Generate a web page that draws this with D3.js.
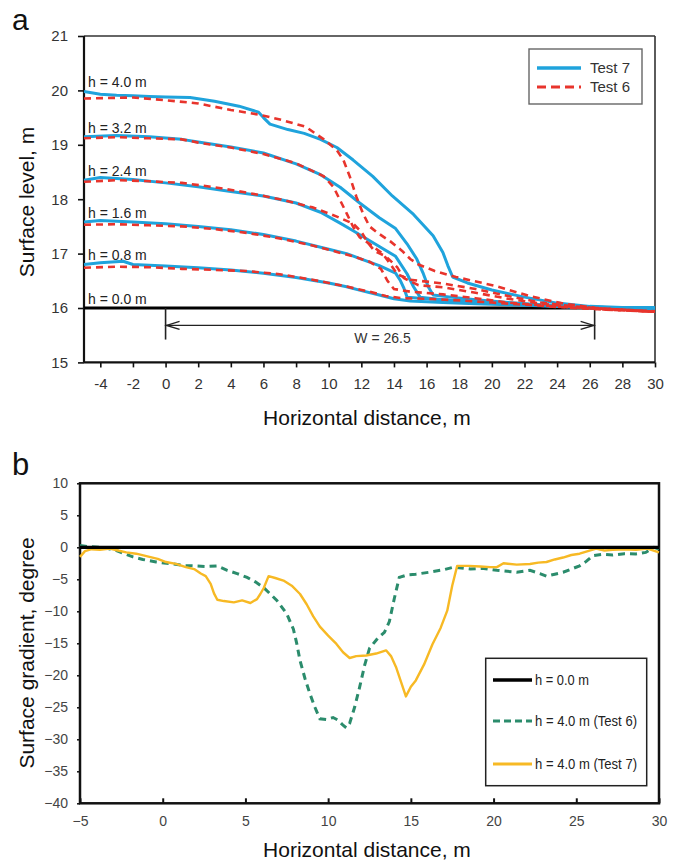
<!DOCTYPE html>
<html><head><meta charset="utf-8">
<script src="https://cdn.jsdelivr.net/npm/d3@7"></script>
<style>
body{margin:0;background:#fff;}
svg{display:block;font-family:"Liberation Sans",Arial,sans-serif;}
</style></head>
<body><svg id="c" width="677" height="861"></svg>
<script>
// ---------- DATA (panel a) ----------
const xTicksA = [-4,-2,0,2,4,6,8,10,12,14,16,18,20,22,24,26,28,30];
const yTicksA = [15,16,17,18,19,20,21];
const levelLabels = ["h = 4.0 m","h = 3.2 m","h = 2.4 m","h = 1.6 m","h = 0.8 m","h = 0.0 m"];
const levelStart = [19.98,19.15,18.35,17.58,16.8,16.0];
const baseLine = [[-5,16],[30,16]];
const wStart = 0, wEnd = 26.3, wLevel = 15.68, wLabel = "W = 26.5";

const test7_40 = [[-5,19.98],[-4,19.93],[-3,19.91],[-2,19.9],[-1,19.89],[0,19.88],[1.5,19.87],[3,19.8],[4.5,19.71],[5.7,19.6],[6.0,19.5],[6.4,19.38],[7.5,19.28],[8.5,19.21],[9.5,19.1],[10.5,18.95],[11.5,18.72],[12.7,18.42],[13.9,18.06],[15.2,17.72],[16.4,17.33],[17.0,17.02],[17.3,16.78],[17.6,16.57],[18.5,16.46],[20,16.33],[22,16.2],[24,16.09],[26,16.03],[28,16.01],[30,16.0]];
const test7_32 = [[-5,19.15],[-3,19.17],[-1,19.15],[1,19.1],[2,19.05],[4,18.96],[6,18.85],[8,18.65],[9.5,18.45],[10.7,18.22],[11.9,17.93],[13.1,17.66],[14.1,17.46],[14.8,17.18],[15.4,16.9],[15.8,16.63],[16.1,16.39],[16.4,16.24],[17.5,16.2],[19,16.15],[21,16.1],[23,16.06],[25,16.03],[27,16.01],[30,16.0]];
const test7_24 = [[-5,18.35],[-4,18.4],[-2,18.36],[0,18.3],[2,18.23],[4,18.14],[6,18.06],[8,17.93],[9.5,17.76],[10.7,17.56],[11.5,17.42],[13.1,17.13],[14.1,16.95],[14.8,16.63],[15.2,16.39],[15.6,16.2],[17,16.15],[19,16.12],[21,16.08],[23,16.05],[25,16.02],[27,16.0],[30,16.0]];
const test7_16 = [[-5,17.58],[-4,17.61],[-2,17.58],[0,17.55],[2,17.5],[4,17.44],[6,17.35],[8,17.23],[10,17.08],[11.1,17.0],[12,16.9],[13.1,16.78],[14.1,16.64],[14.4,16.5],[14.6,16.37],[14.8,16.2],[16,16.17],[18,16.13],[20,16.1],[22,16.06],[24,16.03],[26,16.01],[30,16.0]];
const test7_08 = [[-5,16.8],[-4,16.83],[-2.6,16.86],[-2,16.8],[0,16.77],[2,16.74],[4,16.7],[6,16.64],[8,16.56],[10,16.46],[11.1,16.39],[12,16.32],[13.1,16.24],[14,16.17],[15,16.13],[17,16.1],[19,16.08],[21,16.06],[23,16.04],[25,16.02],[27,16.01],[30,16.0]];

const test6_40 = [[-5,19.85],[-2,19.87],[0,19.82],[2,19.76],[4,19.64],[5.8,19.55],[7.2,19.45],[8.6,19.33],[9.7,19.1],[10.5,18.9],[10.9,18.72],[11.3,18.41],[11.7,18.04],[12.1,17.74],[12.5,17.5],[13.0,17.38],[13.8,17.22],[14.5,17.05],[15.0,16.9],[15.5,16.8],[16.5,16.68],[17.8,16.57],[20.3,16.4],[22.3,16.22],[24.4,16.08],[26.4,16.0],[28,15.97],[30,15.94]];
const test6_32 = [[-5,19.12],[-3,19.14],[-1,19.12],[1,19.1],[2,19.04],[4,18.95],[6,18.83],[8,18.66],[9.7,18.42],[10.3,18.22],[10.7,17.98],[11.1,17.74],[11.5,17.49],[11.9,17.3],[12.5,17.18],[13.3,17.0],[13.8,16.8],[14.2,16.62],[15,16.52],[17,16.45],[19,16.35],[21,16.22],[23,16.1],[25,16.03],[27,15.98],[30,15.93]];
const test6_24 = [[-5,18.32],[-3,18.35],[-1,18.33],[1,18.3],[3,18.22],[5,18.12],[7,18.0],[9,17.85],[10.5,17.68],[11.5,17.55],[12,17.4],[12.4,17.2],[12.8,17.05],[13.5,16.95],[14.2,16.75],[14.6,16.55],[15.5,16.42],[17,16.38],[19,16.28],[21,16.17],[23,16.08],[25,16.02],[27,15.97],[30,15.93]];
const test6_16 = [[-5,17.53],[-3,17.54],[-1,17.52],[1,17.5],[3,17.45],[5,17.38],[7,17.28],[9,17.15],[10.5,17.03],[11.5,16.95],[12.5,16.85],[13.2,16.72],[13.6,16.5],[14,16.35],[15,16.3],[17,16.25],[19,16.18],[21,16.1],[23,16.05],[25,16.0],[27,15.97],[30,15.93]];
const test6_08 = [[-5,16.74],[-3,16.76],[-1,16.75],[1,16.72],[3,16.7],[5,16.68],[7,16.62],[9,16.52],[11,16.4],[12.5,16.3],[13.5,16.22],[14.5,16.18],[16,16.17],[18,16.14],[20,16.1],[22,16.06],[24,16.02],[26,16.0],[28,15.97],[30,15.93]];

const legendA = ["Test 7","Test 6"];

// ---------- DATA (panel b) ----------
const xTicksB = [-5,0,5,10,15,20,25,30];
const yTicksB = [-40,-35,-30,-25,-20,-15,-10,-5,0,5,10];
const grad0 = [[-5,0],[30,0]];
const grad6 = [[-5,0.3],[-4.5,0.1],[-3.8,0],[-3.3,-0.2],[-2.8,-0.5],[-2.3,-1.0],[-1.8,-1.5],[-1.2,-1.9],[-0.4,-2.3],[0.6,-2.6],[1.4,-2.85],[2.6,-3.0],[3.3,-2.9],[3.9,-3.6],[4.5,-4.1],[5.1,-4.7],[5.6,-5.4],[6.1,-6.3],[6.9,-8.3],[7.5,-10.4],[7.9,-12.8],[8.1,-15],[8.3,-17.7],[8.6,-20.5],[8.9,-22.9],[9.2,-25],[9.5,-26.8],[9.9,-26.9],[10.3,-26.6],[10.6,-27.0],[10.9,-27.8],[11.1,-28.2],[11.3,-27.5],[11.6,-25],[11.9,-21.9],[12.2,-18.5],[12.5,-15.8],[13.0,-14.2],[13.4,-13.3],[13.7,-11.6],[14.0,-8],[14.3,-4.7],[14.8,-4.3],[15.3,-4.2],[16.1,-3.9],[17.0,-3.5],[17.6,-3.1],[18.6,-3.4],[19.4,-3.3],[20.2,-3.6],[21.4,-3.9],[22.2,-3.6],[22.8,-4.1],[23.2,-4.5],[23.7,-4.2],[24.2,-3.9],[24.7,-3.4],[25.2,-2.9],[25.6,-2.2],[26.0,-1.3],[26.6,-1.1],[27.2,-1.2],[27.9,-1.0],[28.6,-1.05],[29.2,-0.8],[29.7,0],[30,-0.3]];
const grad7 = [[-5,-1.5],[-4.7,-0.6],[-4.3,-0.3],[-3.8,-0.4],[-3.2,-0.2],[-2.7,-0.5],[-2.2,-0.8],[-1.6,-1.0],[-0.8,-1.5],[-0.3,-1.8],[0.2,-2.3],[0.8,-2.6],[1.4,-3.1],[1.9,-3.4],[2.3,-4.1],[2.6,-4.5],[2.9,-5.7],[3.1,-7.2],[3.3,-8.2],[3.7,-8.4],[4.3,-8.6],[4.8,-8.3],[5.3,-8.7],[5.7,-8.1],[5.9,-7.3],[6.1,-6.4],[6.4,-4.5],[6.8,-4.8],[7.3,-5.2],[7.8,-6.0],[8.3,-7.3],[8.7,-8.9],[9.1,-10.8],[9.5,-12.4],[10.0,-13.8],[10.5,-15.1],[10.9,-16.4],[11.3,-17.3],[11.7,-17.0],[12.3,-16.9],[12.9,-16.6],[13.5,-16.1],[13.8,-17],[14.1,-18.7],[14.4,-21],[14.7,-23.3],[15.0,-21.8],[15.3,-20.8],[15.8,-18.3],[16.3,-15.2],[16.8,-12.6],[17.2,-9.9],[17.5,-6],[17.8,-2.9],[18.5,-2.9],[19.2,-3.0],[19.8,-3.1],[20.2,-3.1],[20.6,-2.5],[21.4,-2.7],[22.2,-2.6],[22.7,-2.4],[23.2,-2.3],[23.7,-1.9],[24.2,-1.6],[24.7,-1.2],[25.2,-1.0],[25.7,-0.6],[26.2,-0.2],[26.7,-0.5],[27.2,-0.4],[27.9,-0.3],[28.6,-0.4],[29.3,-0.2],[30,-0.8]];
const legendB = ["h = 0.0 m","h = 4.0 m (Test 6)","h = 4.0 m (Test 7)"];

// ---------- DRAW ----------
const svg = d3.select("#c");
const BLUE = "#1fa3dc", RED = "#e8342c", GREEN = "#2b8c6c", YELLOW = "#f7b924";

// Panel a
const xA = d3.scaleLinear().domain([-5,30]).range([84,655]);
const yA = d3.scaleLinear().domain([15,21]).range([362.4,36]);
const lineA = d3.line().x(d=>xA(d[0])).y(d=>yA(d[1]));

svg.append("text").attr("x",12).attr("y",30).attr("font-size",30).attr("fill","#111").text("a");

svg.append("line").attr("x1",xA(-5)).attr("x2",xA(30)).attr("y1",yA(21)).attr("y2",yA(21)).attr("stroke","#333").attr("stroke-width",1.6);
svg.append("line").attr("x1",xA(30)).attr("x2",xA(30)).attr("y1",yA(21)).attr("y2",yA(15)).attr("stroke","#333").attr("stroke-width",1.6);

const gxA = svg.append("g").attr("transform",`translate(0,${yA(15)})`)
  .call(d3.axisBottom(xA).tickValues(xTicksA).tickSize(5).tickPadding(11).tickFormat(d=>d<0?"-"+Math.abs(d):d));
gxA.select(".domain").remove();
gxA.selectAll("line").attr("stroke","#111").attr("stroke-width",1.6);
gxA.selectAll("text").attr("font-size",15).attr("fill","#333").attr("font-family","Liberation Sans, Arial");
const gyA = svg.append("g").attr("transform",`translate(${xA(-5)},0)`)
  .call(d3.axisLeft(yA).tickValues(yTicksA).tickSize(6).tickPadding(10).tickFormat(d3.format("d")));
gyA.select(".domain").remove();
gyA.selectAll("line").attr("stroke","#111").attr("stroke-width",1.6);
gyA.selectAll("text").attr("font-size",15).attr("fill","#333").attr("font-family","Liberation Sans, Arial");
svg.append("line").attr("x1",xA(-5)).attr("x2",xA(-5)).attr("y1",yA(21)).attr("y2",yA(15)).attr("stroke","#111").attr("stroke-width",2.2);
svg.append("line").attr("x1",xA(-5)).attr("x2",xA(30)).attr("y1",yA(15)).attr("y2",yA(15)).attr("stroke","#111").attr("stroke-width",2.2);

svg.append("path").attr("d",lineA(baseLine)).attr("stroke","#000").attr("stroke-width",3).attr("fill","none");

// W arrow
const wy = yA(wLevel);
svg.append("line").attr("x1",xA(wStart)).attr("x2",xA(wEnd)).attr("y1",wy).attr("y2",wy).attr("stroke","#222").attr("stroke-width",1.4);
[wStart,wEnd].forEach(v=>{
  svg.append("line").attr("x1",xA(v)).attr("x2",xA(v)).attr("y1",yA(16)).attr("y2",yA(15.42)).attr("stroke","#222").attr("stroke-width",1.6);
});
svg.append("path").attr("d",`M${xA(wStart)+14},${wy-4}L${xA(wStart)+1},${wy}L${xA(wStart)+14},${wy+4}`).attr("fill","none").attr("stroke","#222").attr("stroke-width",1.4);
svg.append("path").attr("d",`M${xA(wEnd)-14},${wy-4}L${xA(wEnd)-1},${wy}L${xA(wEnd)-14},${wy+4}`).attr("fill","none").attr("stroke","#222").attr("stroke-width",1.4);
svg.append("text").attr("x",xA(13.3)).attr("y",yA(15.35)).attr("text-anchor","middle").attr("font-size",14).attr("fill","#333").text(wLabel);

const blues = [test7_40,test7_32,test7_24,test7_16,test7_08];
const reds = [test6_40,test6_32,test6_24,test6_16,test6_08];
blues.forEach(c=>svg.append("path").attr("d",lineA(c)).attr("fill","none").attr("stroke",BLUE).attr("stroke-width",3).attr("stroke-linejoin","round"));
reds.forEach(c=>svg.append("path").attr("d",lineA(c)).attr("fill","none").attr("stroke",RED).attr("stroke-width",2.6).attr("stroke-dasharray","7,5"));

levelLabels.forEach((t,i)=>{
  svg.append("text").attr("x",xA(-5)+4).attr("y",yA(levelStart[i])-4).attr("font-size",14).attr("fill","#222").text(t);
});

svg.append("rect").attr("x",529).attr("y",49).attr("width",113).attr("height",55).attr("fill","#fff").attr("stroke","#666").attr("stroke-width",1.4);
svg.append("line").attr("x1",537).attr("x2",581).attr("y1",68).attr("y2",68).attr("stroke",BLUE).attr("stroke-width",3.5);
svg.append("line").attr("x1",537).attr("x2",581).attr("y1",87).attr("y2",87).attr("stroke",RED).attr("stroke-width",3).attr("stroke-dasharray","9,5");
legendA.forEach((t,i)=>svg.append("text").attr("x",590).attr("y",68+i*19).attr("dy","0.36em").attr("font-size",15).attr("fill","#333").text(t));

svg.append("text").attr("x",367).attr("y",425).attr("text-anchor","middle").attr("font-size",21).attr("fill","#111").text("Horizontal distance, m");
svg.append("text").attr("transform","translate(34,202) rotate(-90)").attr("text-anchor","middle").attr("font-size",21).attr("fill","#111").text("Surface level, m");

// Panel b
const xB = d3.scaleLinear().domain([-5,30]).range([80,659]);
const yB = d3.scaleLinear().domain([-40,10]).range([803.3,483.3]);
const lineB = d3.line().x(d=>xB(d[0])).y(d=>yB(d[1]));
svg.append("text").attr("x",12).attr("y",475).attr("font-size",31).attr("fill","#111").text("b");

const gxB = svg.append("g").attr("transform",`translate(0,${yB(-40)})`)
  .call(d3.axisBottom(xB).tickValues(xTicksB).tickSize(-5).tickPadding(13));
gxB.select(".domain").remove();
gxB.selectAll("line").attr("stroke","#111").attr("stroke-width",2);
gxB.selectAll("text").attr("font-size",14).attr("fill","#444");
const gyB = svg.append("g").attr("transform",`translate(${xB(-5)},0)`)
  .call(d3.axisLeft(yB).tickValues(yTicksB).tickSize(3).tickPadding(9));
gyB.select(".domain").remove();
gyB.selectAll("line").attr("stroke","#111").attr("stroke-width",1.5);
gyB.selectAll("text").attr("font-size",14).attr("fill","#444");
svg.append("rect").attr("x",xB(-5)).attr("y",yB(10)).attr("width",xB(30)-xB(-5)).attr("height",yB(-40)-yB(10)).attr("fill","none").attr("stroke","#111").attr("stroke-width",2.5);

svg.append("path").attr("d",lineB(grad6)).attr("fill","none").attr("stroke",GREEN).attr("stroke-width",3).attr("stroke-dasharray","7,5");
svg.append("path").attr("d",lineB(grad7)).attr("fill","none").attr("stroke",YELLOW).attr("stroke-width",2.4).attr("stroke-linejoin","round");
svg.append("path").attr("d",lineB(grad0)).attr("fill","none").attr("stroke","#000").attr("stroke-width",3.2);

svg.append("rect").attr("x",485.7).attr("y",658.3).attr("width",161).attr("height",127.4).attr("fill","#fff").attr("stroke","#222").attr("stroke-width",1.5);
const lbY = [680,721,764];
const lbW = [54,102,102];
const lbStyle = [{c:"#000",w:3.5,d:null},{c:GREEN,w:3,d:"7,4"},{c:YELLOW,w:3,d:null}];
legendB.forEach((t,i)=>{
  const l = svg.append("line").attr("x1",493).attr("x2",532).attr("y1",lbY[i]).attr("y2",lbY[i]).attr("stroke",lbStyle[i].c).attr("stroke-width",lbStyle[i].w);
  if(lbStyle[i].d) l.attr("stroke-dasharray",lbStyle[i].d);
  svg.append("text").attr("x",535).attr("y",lbY[i]).attr("dy","0.36em").attr("font-size",14.5).attr("fill","#222")
    .attr("textLength",lbW[i]).attr("lengthAdjust","spacingAndGlyphs").text(t);
});

svg.append("text").attr("x",367).attr("y",857).attr("text-anchor","middle").attr("font-size",21).attr("fill","#111").text("Horizontal distance, m");
svg.append("text").attr("transform","translate(34,653) rotate(-90)").attr("text-anchor","middle").attr("font-size",21).attr("fill","#111").text("Surface gradient, degree");
</script></body></html>
